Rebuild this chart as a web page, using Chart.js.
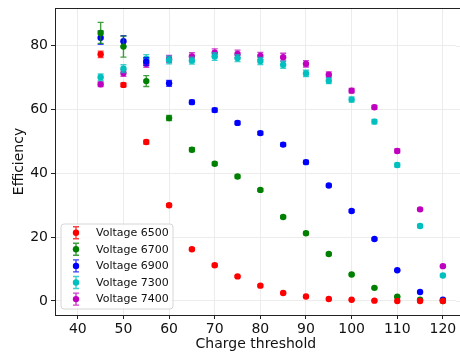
<!DOCTYPE html>
<html>
<head>
<meta charset="utf-8">
<script src="https://cdn.jsdelivr.net/npm/chart.js@4"></script>
<style>
  html, body { margin: 0; padding: 0; background: #fff; overflow: hidden; }
  #wrap { width: 460px; height: 353px; }
  canvas { display: block; }
</style>
</head>
<body>
<div id="wrap"><canvas id="c" width="460" height="353"></canvas></div>
<script>
const thresholds = [45, 50, 55, 60, 65, 70, 75, 80, 85, 90, 95, 100, 105, 110, 115, 120];
const seriesLabels = ['Voltage 6500', 'Voltage 6700', 'Voltage 6900', 'Voltage 7300', 'Voltage 7400'];
const seriesColors = ['#ff0000', '#008000', '#0000ff', '#00bfbf', '#bf00bf'];

const eff6500 = [77.3, 67.7, 49.8, 30.0, 16.2, 11.2, 7.7, 4.8, 2.5, 1.4, 0.6, 0.4, 0.1, 0.0, 0.0, 0.0];
const eff6700 = [84.0, 79.7, 68.9, 57.3, 47.4, 43.0, 39.0, 34.8, 26.3, 21.2, 14.7, 8.3, 4.1, 1.3, 0.4, 0.0];
const eff6900 = [82.5, 81.4, 75.0, 68.2, 62.3, 59.8, 55.8, 52.6, 49.0, 43.5, 36.2, 28.2, 19.4, 9.6, 2.8, 0.4];
const eff7300 = [70.1, 72.8, 75.9, 75.5, 75.3, 76.6, 76.1, 75.2, 74.0, 71.3, 69.0, 63.1, 56.2, 42.6, 23.5, 8.0];
const eff7400 = [67.9, 71.4, 74.3, 75.8, 76.6, 77.8, 77.4, 76.8, 76.4, 74.3, 70.9, 65.9, 60.7, 47.0, 28.7, 10.9];

const err6500 = [1.0, 0.6, 0.6, 0.5, 0.4, 0.4, 0.3, 0.3, 0.2, 0.2, 0.1, 0.1, 0.1, 0.0, 0.0, 0.0];
const err6700 = [3.3, 3.3, 1.7, 0.8, 0.6, 0.5, 0.5, 0.4, 0.4, 0.4, 0.3, 0.3, 0.2, 0.1, 0.1, 0.0];
const err6900 = [2.1, 1.7, 1.2, 0.9, 0.6, 0.6, 0.5, 0.5, 0.5, 0.5, 0.4, 0.4, 0.3, 0.2, 0.1, 0.1];
const err7300 = [1.0, 1.2, 1.3, 1.2, 1.1, 1.2, 1.1, 1.1, 1.1, 1.0, 0.9, 0.8, 0.7, 0.6, 0.5, 0.3];
const err7400 = [0.7, 1.0, 1.1, 1.1, 1.2, 1.2, 1.2, 1.1, 1.2, 1.0, 0.9, 0.7, 0.6, 0.6, 0.4, 0.3];

const xTicks = [40, 50, 60, 70, 80, 90, 100, 110, 120];
const yTicks = [0, 20, 40, 60, 80];

const allValues = [eff6500, eff6700, eff6900, eff7300, eff7400];
const allErrors = [err6500, err6700, err6900, err7300, err7400];

const FONT = "'DejaVu Sans', sans-serif";

const datasets = allValues.map((vals, s) => ({
  label: seriesLabels[s],
  data: thresholds.map((x, i) => ({ x: x, y: vals[i] })),
  errors: allErrors[s],
  backgroundColor: seriesColors[s],
  borderColor: seriesColors[s],
  pointRadius: 3.2,
  pointHoverRadius: 3.2,
  pointBorderWidth: 0,
  showLine: false
}));

const errorBarPlugin = {
  id: 'errorBars',
  beforeDatasetDraw(chart, args) {
    const ds = chart.data.datasets[args.index];
    const meta = chart.getDatasetMeta(args.index);
    const ys = chart.scales.y;
    const ctx = chart.ctx;
    ctx.save();
    ctx.strokeStyle = ds.borderColor;
    ctx.globalAlpha = 0.75;
    ctx.lineWidth = 1.4;
    meta.data.forEach((pt, i) => {
      const e = ds.errors[i];
      if (!e) return;
      const v = ds.data[i].y;
      const y1 = ys.getPixelForValue(v + e);
      const y2 = ys.getPixelForValue(v - e);
      ctx.beginPath();
      ctx.moveTo(pt.x, y1); ctx.lineTo(pt.x, y2);
      ctx.moveTo(pt.x - 3, y1); ctx.lineTo(pt.x + 3, y1);
      ctx.moveTo(pt.x - 3, y2); ctx.lineTo(pt.x + 3, y2);
      ctx.stroke();
    });
    ctx.restore();
  }
};

const framePlugin = {
  id: 'frame',
  afterDraw(chart) {
    const ctx = chart.ctx;
    const a = chart.chartArea;
    const W = chart.width;
    const ys = chart.scales.y;
    ctx.save();
    // continue the plot area to the canvas edge (the reference is cropped there)
    if (a.right < W) {
      ctx.fillStyle = '#ffffff';
      ctx.fillRect(a.right - 1, a.top + 1, W - a.right + 1, a.bottom - a.top - 1);
      ctx.strokeStyle = '#ececec';
      ctx.lineWidth = 1;
      yTicks.forEach(v => {
        const py = Math.round(ys.getPixelForValue(v)) + 0.5;
        ctx.beginPath(); ctx.moveTo(a.right - 1, py); ctx.lineTo(W, py); ctx.stroke();
      });
      ctx.strokeStyle = '#222';
      ctx.beginPath(); ctx.moveTo(a.right - 1, Math.round(a.bottom) + 0.5); ctx.lineTo(W, Math.round(a.bottom) + 0.5); ctx.stroke();
    }
    ctx.strokeStyle = '#222';
    ctx.lineWidth = 1;
    ctx.beginPath();
    ctx.moveTo(a.left, a.top + 0.5);
    ctx.lineTo(W, a.top + 0.5);
    ctx.stroke();

    // legend
    const bx = 61, by = 224, bw = 112, bh = 85, r = 3;
    ctx.globalAlpha = 0.85;
    ctx.fillStyle = '#ffffff';
    ctx.beginPath();
    ctx.moveTo(bx + r, by);
    ctx.arcTo(bx + bw, by, bx + bw, by + bh, r);
    ctx.arcTo(bx + bw, by + bh, bx, by + bh, r);
    ctx.arcTo(bx, by + bh, bx, by, r);
    ctx.arcTo(bx, by, bx + bw, by, r);
    ctx.closePath();
    ctx.fill();
    ctx.globalAlpha = 1;
    ctx.strokeStyle = '#d6d6d6';
    ctx.lineWidth = 1;
    ctx.stroke();

    ctx.font = '11px ' + FONT;
    ctx.textBaseline = 'middle';
    ctx.textAlign = 'left';
    seriesLabels.forEach((lab, i) => {
      const cy = 232.7 + i * 16.6;
      const mx = 76;
      ctx.strokeStyle = seriesColors[i];
      ctx.globalAlpha = 0.75;
      ctx.lineWidth = 1.4;
      ctx.beginPath();
      ctx.moveTo(mx, cy - 6); ctx.lineTo(mx, cy + 6);
      ctx.moveTo(mx - 3, cy - 6); ctx.lineTo(mx + 3, cy - 6);
      ctx.moveTo(mx - 3, cy + 6); ctx.lineTo(mx + 3, cy + 6);
      ctx.stroke();
      ctx.globalAlpha = 1;
      ctx.fillStyle = seriesColors[i];
      ctx.beginPath();
      ctx.arc(mx, cy, 3.2, 0, Math.PI * 2);
      ctx.fill();
      ctx.fillStyle = '#111';
      ctx.fillText(lab, 96, cy + 0.5);
    });
    ctx.restore();
  }
};

const chart = new Chart(document.getElementById('c'), {
  type: 'scatter',
  data: { datasets: datasets },
  plugins: [errorBarPlugin, framePlugin],
  options: {
    responsive: false,
    animation: false,
    events: [],
    layout: { padding: { top: 8, right: 0, left: 0, bottom: 0 } },
    plugins: { legend: { display: false }, tooltip: { enabled: false } },
    scales: {
      x: {
        type: 'linear',
        min: 35,
        max: 123.75,
        afterBuildTicks: (s) => { s.ticks = xTicks.map(v => ({ value: v })); },
        afterFit: (s) => { s.height = 38; s.paddingLeft = 0; s.paddingRight = 0; },
        grid: { color: '#ececec', lineWidth: 1, drawTicks: true, tickLength: 4, tickColor: '#222' },
        border: { color: '#222', width: 1 },
        ticks: { color: '#111', font: { family: FONT, size: 14 }, padding: 2, maxRotation: 0 },
        title: { display: true, text: 'Charge threshold', color: '#111', font: { family: FONT, size: 14 }, padding: { top: 4, bottom: 0 } }
      },
      y: {
        type: 'linear',
        min: -4.4,
        max: 91.8,
        afterBuildTicks: (s) => { s.ticks = yTicks.map(v => ({ value: v })); },
        afterFit: (s) => { s.width = 55; s.paddingTop = 0; s.paddingBottom = 0; },
        grid: { color: '#ececec', lineWidth: 1, drawTicks: true, tickLength: 4, tickColor: '#222' },
        border: { color: '#222', width: 1 },
        ticks: { color: '#111', font: { family: FONT, size: 14 }, padding: 3 },
        title: { display: true, text: 'Efficiency', color: '#111', font: { family: FONT, size: 14 }, padding: { top: 11, bottom: 0 } }
      }
    }
  }
});

// The axis should reach 123.75 at the canvas edge; rescale the x range to the actual plot width
const L = chart.chartArea.left, R = chart.chartArea.right, W = chart.width;
if (R < W - 0.1) {
  const fullMax = 123.75;
  chart.options.scales.x.max = 35 + (fullMax - 35) * (R - L) / (W - L);
  chart.update();
}
</script>
</body>
</html>
